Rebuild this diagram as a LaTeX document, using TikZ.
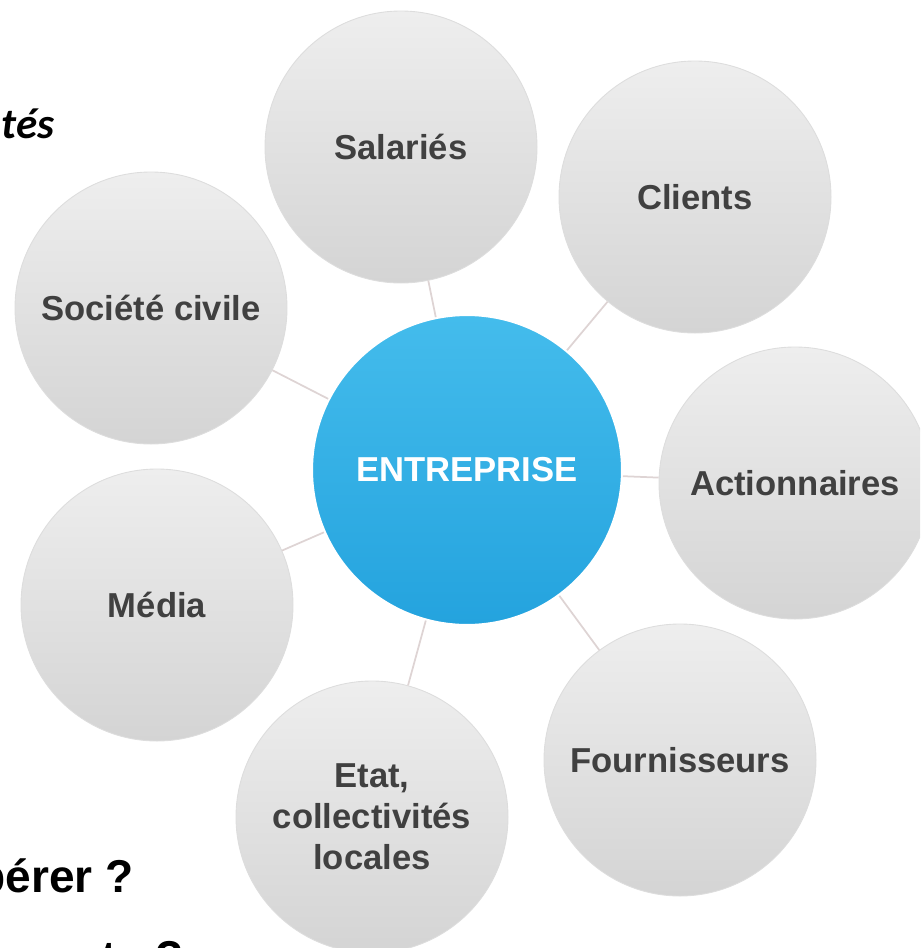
\documentclass[tikz,border=0pt]{standalone}
\usepackage{fontspec}
\setmainfont{Liberation Sans}
\newfontfamily\calibrifont{Carlito}

\definecolor{partiehaut}{RGB}{238,238,238}
\definecolor{partiebas}{RGB}{212,212,212}
\definecolor{bleuhaut}{RGB}{68,188,236}
\definecolor{bleubas}{RGB}{36,163,222}
\definecolor{texte}{RGB}{64,64,64}
\definecolor{liencouleur}{RGB}{222,212,212}

\begin{document}
\begin{tikzpicture}[x = 0.2mm, y = -0.2mm,
        partie/.style = {circle, draw = partiebas!80, line width = 0.5pt, minimum size = 54.4mm,
            inner sep = 0pt, top color = partiehaut, bottom color = partiebas, text = texte,
            font = \fontsize{19.7}{23.3}\selectfont\bfseries, align = center},
        centre/.style = {circle, draw = white, line width = 1.2pt, minimum size = 62mm,
            inner sep = 0pt, top color = bleuhaut, bottom color = bleubas, text = white,
            font = \fontsize{19.7}{23.3}\selectfont\bfseries},
        lien/.style = {draw = liencouleur, line width = 0.35mm},
        question/.style = {inner sep = 0pt, font = \fontsize{26.2}{30}\selectfont\bfseries}]
    % \draw[style = help lines, step = 100] (0,0) grid (920,948);
    \clip (0,0) rectangle (920,948);

    \node[centre] (ent) at (467,470) {ENTREPRISE};

    \node[partie] (sal) at (401,147) {Salariés};
    \node[partie] (cli) at (695,197) {Clients};
    \node[partie] (act) at (795,483) {Actionnaires};
    \node[partie] (fou) at (680,760) {Fournisseurs};
    \node[partie] (eta) at (372,817) {Etat,\\collectivités\\locales};
    \node[partie] (med) at (157,605) {Média};
    \node[partie] (soc) at (151,308) {Société civile};

    \foreach \p in {sal, cli, act, fou, eta, med, soc}
        \draw[lien] (ent) -- (\p);

    % texte coupé au bord
    \node[inner sep = 0pt, anchor = base east, font = \calibrifont\fontsize{24.5}{28}\selectfont\bfseries\itshape] (haut) at (55,138) {tés};
    \node[question, anchor = base east] (q1) at (134,892) {pérer ?};
    \node[question, anchor = base west] (q2) at (101,973) {ts ?};
\end{tikzpicture}
\end{document}
